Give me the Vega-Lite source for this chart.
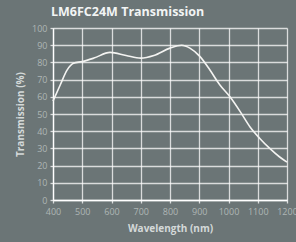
{
  "$schema": "https://vega.github.io/schema/vega-lite/v6.json",
  "autosize": "none",
  "width": 234,
  "height": 172,
  "padding": {"left": 53, "top": 28, "right": 9, "bottom": 42},
  "background": "#6b7576",
  "title": {"text": "LM6FC24M Transmission", "anchor": "start", "frame": "group", "dx": -2, "offset": 6, "color": "#f2f4f4", "font": "Open Sans", "fontSize": 12.5, "fontWeight": "bold"},
  "config": {"view": {"stroke": null}},
  "data": {"values": [
    {"wl": 400, "t": 57.5},
    {"wl": 425, "t": 67},
    {"wl": 448, "t": 75.5},
    {"wl": 470, "t": 79.5},
    {"wl": 500, "t": 80.5},
    {"wl": 540, "t": 82.5},
    {"wl": 595, "t": 85.8},
    {"wl": 650, "t": 84},
    {"wl": 700, "t": 82.5},
    {"wl": 745, "t": 84},
    {"wl": 800, "t": 88.3},
    {"wl": 840, "t": 90},
    {"wl": 868, "t": 88.3},
    {"wl": 902, "t": 83.5},
    {"wl": 936, "t": 75.7},
    {"wl": 970, "t": 67},
    {"wl": 1005, "t": 60},
    {"wl": 1040, "t": 51.4},
    {"wl": 1073, "t": 42.6},
    {"wl": 1107, "t": 35.8},
    {"wl": 1141, "t": 30},
    {"wl": 1175, "t": 25},
    {"wl": 1200, "t": 22}
  ]},
  "mark": {"type": "line", "interpolate": "monotone", "color": "#f4f4f2", "strokeWidth": 1.6},
  "encoding": {
    "x": {"field": "wl", "type": "quantitative", "scale": {"domain": [400, 1200], "nice": false},
      "axis": {"title": "Wavelength (nm)", "values": [400,500,600,700,800,900,1000,1100,1200], "format": "d", "labelFlush": false,
        "grid": true, "gridColor": "#ffffff", "gridOpacity": 0.75, "gridWidth": 1.3,
        "domainColor": "#ffffff", "domainWidth": 1.3, "tickColor": "#ffffff", "tickOpacity": 0.75, "tickSize": 3, "tickWidth": 1.3,
        "labelColor": "#aeb5b5", "labelFont": "Open Sans", "labelFontSize": 9, "labelPadding": 4, "labelOverlap": false,
        "titleColor": "#d4d9d9", "titleFont": "Open Sans", "titleFontSize": 10, "titleFontWeight": "bold", "titlePadding": 7}},
    "y": {"field": "t", "type": "quantitative", "scale": {"domain": [0, 100], "nice": false},
      "axis": {"title": "Transmission (%)", "values": [0,10,20,30,40,50,60,70,80,90,100], "labelFlush": false,
        "grid": true, "gridColor": "#ffffff", "gridOpacity": 0.75, "gridWidth": 1.3,
        "domainColor": "#ffffff", "domainWidth": 1.3, "tickColor": "#ffffff", "tickOpacity": 0.75, "tickSize": 3, "tickWidth": 1.3,
        "labelColor": "#aeb5b5", "labelFont": "Open Sans", "labelFontSize": 9, "labelPadding": 3,
        "titleColor": "#d4d9d9", "titleFont": "Open Sans", "titleFontSize": 10, "titleFontWeight": "bold", "titlePadding": 6}}
  }
}
